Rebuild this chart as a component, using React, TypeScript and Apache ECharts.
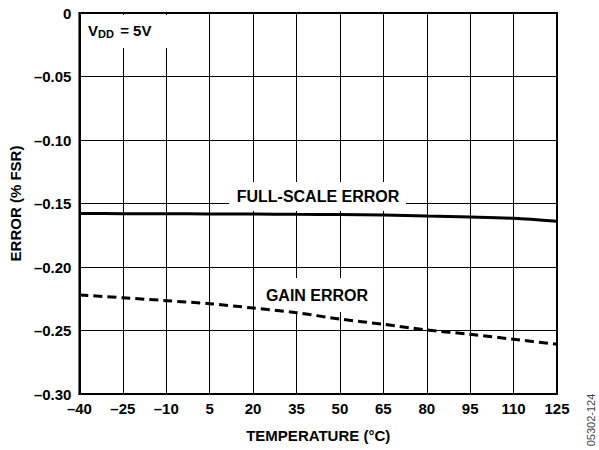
import React, { useEffect, useRef } from "react";
import * as echarts from "echarts";

const temperatures = [-40, -25, -10, 5, 20, 35, 50, 65, 80, 95, 110, 125];
const fullScaleError = [-0.1579, -0.158, -0.1581, -0.1582, -0.1583, -0.1585, -0.1587, -0.159, -0.1598, -0.1606, -0.1617, -0.164];
const gainError = [-0.222, -0.2242, -0.2265, -0.2289, -0.2323, -0.236, -0.241, -0.2451, -0.2496, -0.253, -0.2569, -0.2609];
const xTicks = { min: -40, max: 125, interval: 15 };
const yTicks = { min: -0.3, max: 0, interval: 0.05 };

const FONT = "'Liberation Sans', Arial, Helvetica, sans-serif";

function fmtY(v: number): string {
  if (Math.abs(v) < 1e-9) return "0";
  return (v < 0 ? "\u2013" : "") + Math.abs(v).toFixed(2);
}
function fmtX(v: number): string {
  const r = Math.round(v);
  return r < 0 ? "\u2013" + Math.abs(r) : String(r);
}

export default function App() {
  const ref = useRef<HTMLDivElement>(null);
  useEffect(() => {
    if (!ref.current) return;
    const chart = echarts.init(ref.current, null, { renderer: "svg" });
    const txt = (x: number, y: number, text: string, size: number, align = "left") => ({
      type: "text",
      z: 1,
      x,
      y,
      style: {
        text,
        fill: "#000",
        font: `bold ${size}px ${FONT}`,
        textAlign: align,
        textVerticalAlign: "middle",
      },
    });
    const box = (x: number, y: number, w: number, h: number) => ({
      type: "rect",
      z: 1,
      shape: { x, y, width: w, height: h },
      style: { fill: "#fff" },
    });
    chart.setOption({
      animation: false,
      backgroundColor: "#fff",
      textStyle: { fontFamily: FONT },
      grid: {
        left: 79,
        right: 42,
        top: 13,
        bottom: 56,
        show: true,
        borderColor: "#000",
        borderWidth: 2,
        backgroundColor: "transparent",
      },
      xAxis: {
        type: "value",
        min: xTicks.min,
        max: xTicks.max,
        interval: xTicks.interval,
        name: "TEMPERATURE (°C)",
        nameLocation: "middle",
        nameGap: 34,
        nameTextStyle: { fontFamily: FONT, fontWeight: "bold", fontSize: 15, color: "#000" },
        axisLine: { show: true, onZero: false, lineStyle: { color: "#000", width: 2 } },
        axisTick: { show: false },
        axisLabel: {
          formatter: fmtX,
          fontFamily: FONT,
          fontWeight: "bold",
          fontSize: 15,
          color: "#000",
          margin: 7,
          showMinLabel: true,
          showMaxLabel: true,
        },
        splitLine: { show: true, lineStyle: { color: "#000", width: 1 } },
      },
      yAxis: {
        type: "value",
        min: yTicks.min,
        max: yTicks.max,
        interval: yTicks.interval,
        name: "ERROR (% FSR)",
        nameLocation: "middle",
        nameGap: 55,
        nameTextStyle: { fontFamily: FONT, fontWeight: "bold", fontSize: 15, color: "#000" },
        axisLine: { show: true, onZero: false, lineStyle: { color: "#000", width: 2 } },
        axisTick: { show: false },
        axisLabel: {
          formatter: fmtY,
          fontFamily: FONT,
          fontWeight: "bold",
          fontSize: 15,
          color: "#000",
          margin: 8,
        },
        splitLine: { show: true, lineStyle: { color: "#000", width: 1 } },
      },
      graphic: [
        box(81, 15, 104, 33),
        txt(88, 30, "V", 15),
        txt(98, 34, "DD", 11),
        txt(116, 30, " = 5V", 15),
        box(229, 182, 177, 29),
        txt(318, 196, "FULL-SCALE ERROR", 16, "center"),
        box(261, 278, 112, 34),
        txt(317, 295, "GAIN ERROR", 16, "center"),
        {
          type: "text",
          x: 591,
          y: 420,
          rotation: Math.PI / 2,
          style: {
            text: "05302-124",
            fill: "#444",
            font: `11px ${FONT}`,
            textAlign: "center",
            textVerticalAlign: "middle",
          },
        },
      ],
      series: [
        {
          name: "FULL-SCALE ERROR",
          type: "line",
          z: 3,
          data: temperatures.map((t, i) => [t, fullScaleError[i]]),
          smooth: 0.3,
          symbol: "none",
          lineStyle: { color: "#000", width: 3 },
        },
        {
          name: "GAIN ERROR",
          type: "line",
          z: 3,
          data: temperatures.map((t, i) => [t, gainError[i]]),
          smooth: 0.3,
          symbol: "none",
          lineStyle: { color: "#000", width: 3, type: [9, 5] },
        },
      ],
    });
    return () => chart.dispose();
  }, []);
  return (
    <div
      ref={ref}
      style={{ position: "absolute", left: 0, top: 0, width: 599, height: 450 }}
    />
  );
}
